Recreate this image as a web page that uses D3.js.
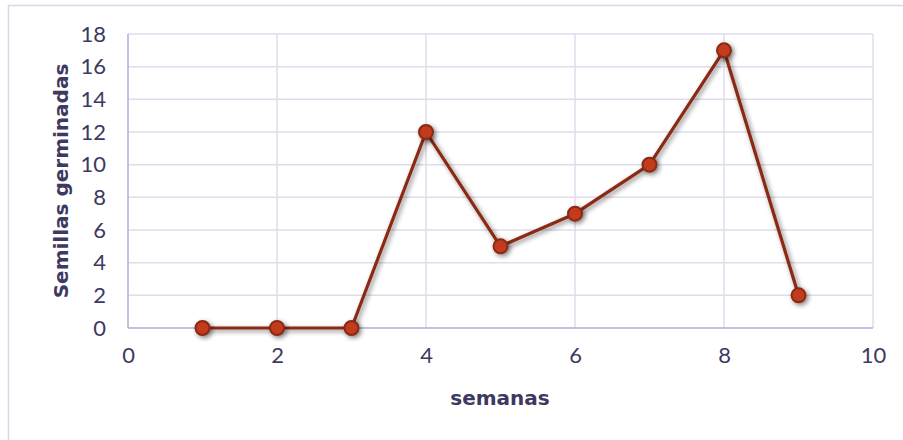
<!DOCTYPE html>
<html><head><meta charset="utf-8">
<script src="https://cdn.jsdelivr.net/npm/d3@7"></script>
<style>html,body{margin:0;padding:0;background:#fff}svg{display:block}</style>
</head><body>
<svg id="c" width="903" height="440"></svg>
<script>
const weeks = [1,2,3,4,5,6,7,8,9];
const seeds = [0,0,0,12,5,7,10,17,2];
const xTicks = [0,2,4,6,8,10];
const yTicks = [0,2,4,6,8,10,12,14,16,18];
const xTitle = "semanas";
const yTitle = "Semillas germinadas";

const svg = d3.select("#c");
const font = "Lato, 'Open Sans', sans-serif";
const titleFont = "'DejaVu Sans', sans-serif";
const textColor = "#3d3960";

// outer frame
svg.append("rect").attr("x",8.5).attr("y",5.5).attr("width",910).attr("height",450)
  .attr("fill","none").attr("stroke","#dcd8ea").attr("stroke-width",1.5);

const x = d3.scaleLinear().domain([0,10]).range([128,873]);
const y = d3.scaleLinear().domain([0,18]).range([328,34]);

const defs = svg.append("defs");
const f = defs.append("filter").attr("id","sh").attr("x","-50%").attr("y","-50%").attr("width","200%").attr("height","200%");
f.append("feGaussianBlur").attr("in","SourceAlpha").attr("stdDeviation",2.5).attr("result","b");
f.append("feOffset").attr("in","b").attr("dx",2).attr("dy",2).attr("result","o");
f.append("feComponentTransfer").attr("in","o").attr("result","o2").append("feFuncA").attr("type","linear").attr("slope",0.5);
const m = f.append("feMerge"); m.append("feMergeNode").attr("in","o2"); m.append("feMergeNode").attr("in","SourceGraphic");

// gridlines
const g = svg.append("g");
g.selectAll("line.h").data(yTicks.filter(d=>d>0)).join("line")
  .attr("x1",x(0)).attr("x2",x(10)).attr("y1",d=>y(d)).attr("y2",d=>y(d))
  .attr("stroke","#dfdcec").attr("stroke-width",1.5);
g.selectAll("line.v").data(xTicks.filter(d=>d>0)).join("line")
  .attr("x1",d=>x(d)).attr("x2",d=>x(d)).attr("y1",y(0)).attr("y2",y(18))
  .attr("stroke","#dfdcec").attr("stroke-width",1.5);
// axis lines
g.append("line").attr("x1",x(0)).attr("x2",x(0)).attr("y1",y(0)).attr("y2",y(18)).attr("stroke","#b3acd9").attr("stroke-width",1.5);
g.append("line").attr("x1",x(0)).attr("x2",x(10)).attr("y1",y(0)).attr("y2",y(0)).attr("stroke","#b3acd9").attr("stroke-width",1.5);

// tick labels
const xa = svg.append("g").attr("transform",`translate(0,${y(0)})`)
  .call(d3.axisBottom(x).tickValues(xTicks).tickSize(0).tickPadding(19).tickFormat(d3.format("d")));
xa.select(".domain").remove();
xa.selectAll("text").attr("font-family",font).attr("font-size",22).attr("fill",textColor);
const ya = svg.append("g").attr("transform",`translate(${x(0)},0)`)
  .call(d3.axisLeft(y).tickValues(yTicks).tickSize(0).tickPadding(22).tickFormat(d3.format("d")));
ya.select(".domain").remove();
ya.selectAll("text").attr("font-family",font).attr("font-size",22).attr("fill",textColor);

// line
const pts = weeks.map((w,i)=>[w,seeds[i]]);
svg.append("path").datum(pts)
  .attr("d",d3.line().x(d=>x(d[0])).y(d=>y(d[1])))
  .attr("fill","none").attr("stroke","#8a2a12").attr("stroke-width",3.2)
  .attr("stroke-linejoin","round").attr("filter","url(#sh)");
svg.selectAll("circle.pt").data(pts).join("circle")
  .attr("cx",d=>x(d[0])).attr("cy",d=>y(d[1])).attr("r",7)
  .attr("fill","#c23a1a").attr("stroke","#8a2a12").attr("stroke-width",2)
  .attr("filter","url(#sh)");

// titles
svg.append("text").attr("x",500).attr("y",405).attr("text-anchor","middle")
  .attr("font-family",titleFont).attr("font-weight","bold").attr("font-size",20).attr("fill",textColor).text(xTitle);
svg.append("text").attr("transform","translate(68,181) rotate(-90)").attr("text-anchor","middle")
  .attr("font-family",titleFont).attr("font-weight","bold").attr("font-size",20).attr("fill",textColor).text(yTitle);
</script>
</body></html>
